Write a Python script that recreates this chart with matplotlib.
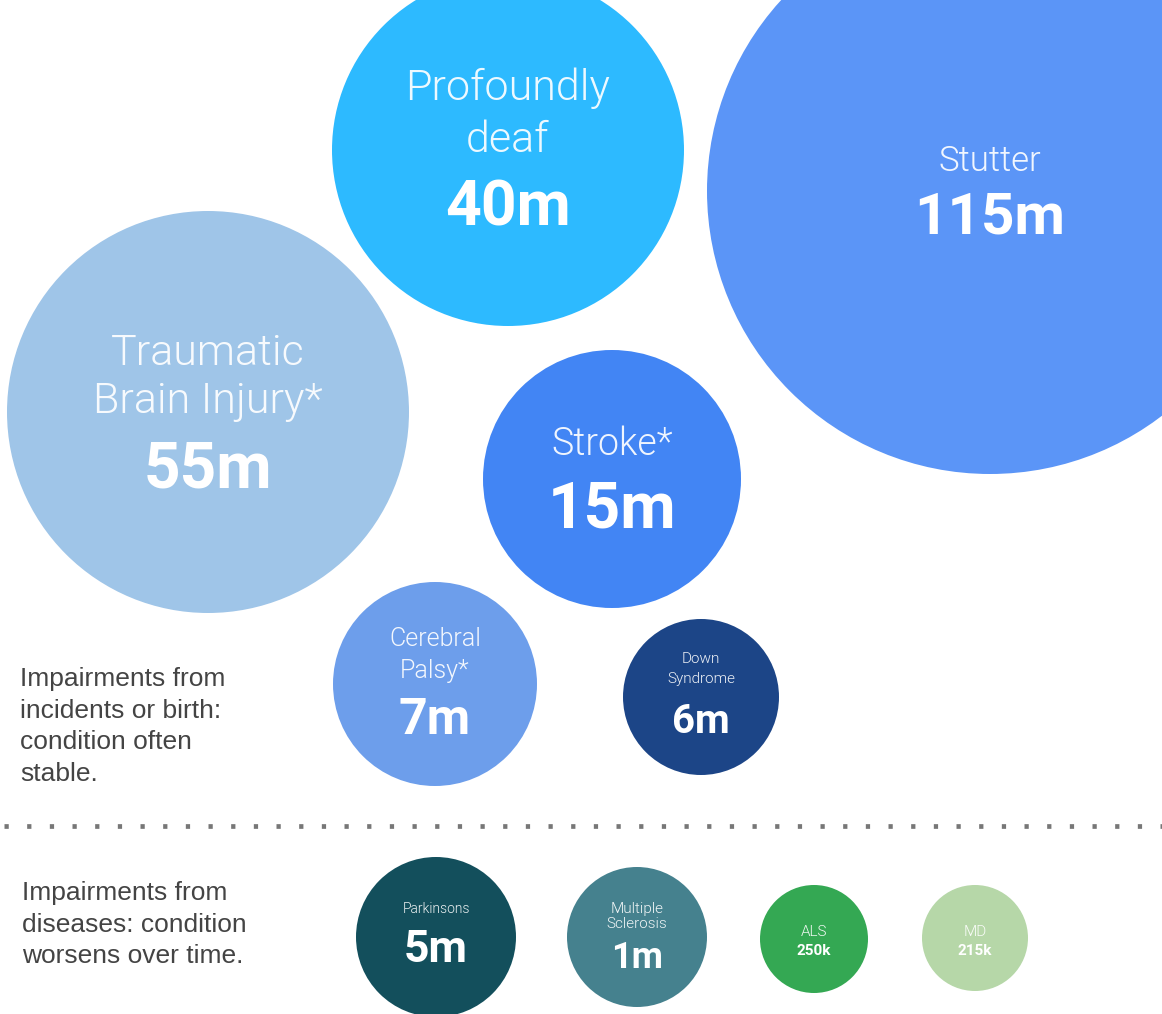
import matplotlib
matplotlib.use("Agg")
import matplotlib.pyplot as plt
from matplotlib.patches import Circle

plt.rcParams['font.family'] = ['Roboto', 'DejaVu Sans']

# --- data -------------------------------------------------------------
names = [
    "Stutter", "Profoundly\ndeaf", "Traumatic\nBrain Injury*", "Stroke*",
    "Cerebral\nPalsy*", "Down\nSyndrome",
    "Parkinsons", "Multiple\nSclerosis", "ALS", "MD",
]
people_m = [115, 40, 55, 15, 7, 6, 5, 1, 0.25, 0.215]   # millions affected
colors = [
    "#5B95F7", "#2DBAFF", "#9FC5E8", "#4285F4",
    "#6D9EEB", "#1C4587",
    "#134F5C", "#45818E", "#34A853", "#B6D7A8",
]
group_notes = [
    "Impairments from\nincidents or birth:\ncondition often\nstable.",
    "Impairments from\ndiseases: condition\nworsens over time.",
]

# --- layout (pixel space, y down) -------------------------------------
# cx, cy, r, name baselines, value baseline, name size, value size
layout = [
    (990, 191, 283, [171], 234, 25, 42),
    (508, 150, 176, [100, 152], 225, 31, 45),
    (208, 412, 201, [365, 413], 488, 31, 46),
    (612, 479, 129, [455], 528, 27, 46),
    (435, 684, 102, [646, 678], 734, 18, 36),
    (701, 697, 78, [663, 683], 733, 11, 29),
    (436, 937, 80, [913], 962, 10, 32),
    (637, 937, 70, [913, 928], 968, 11, 26),
    (814, 939, 54, [936], 955, 11, 11),
    (975, 938, 53, [936], 955, 11, 11),
]


def fmt_value(v):
    if v >= 1:
        return f"{v:g}m"
    return f"{v * 1000:g}k"


W, H = 1162, 1014
fig = plt.figure(figsize=(W / 100, H / 100), dpi=100)
ax = fig.add_axes([0, 0, 1, 1])
ax.set_xlim(0, W)
ax.set_ylim(H, 0)
ax.set_aspect('equal')
ax.axis('off')

for name, val, col, (cx, cy, r, name_ys, val_y, nsz, vsz) in zip(
        names, people_m, colors, layout):
    ax.add_patch(Circle((cx, cy), r, facecolor=col, edgecolor='none'))
    for line, y in zip(name.split("\n"), name_ys):
        ax.text(cx, y, line, ha='center', va='baseline', color='white',
                fontsize=nsz, fontweight=300, alpha=0.92)
    ax.text(cx, val_y, fmt_value(val), ha='center', va='baseline',
            color='white', fontsize=vsz, fontweight='bold')

# dotted separator between the two groups
ax.plot([4, W], [826, 826], color='#777777', linewidth=3.4,
        linestyle=(0, (0.9, 3.9)), solid_capstyle='butt')

note_font = ['Liberation Sans', 'DejaVu Sans']
ax.text(20, 667, group_notes[0], ha='left', va='top', color='#444444',
        fontsize=19, family=note_font, linespacing=1.4)
ax.text(22, 881, group_notes[1], ha='left', va='top', color='#444444',
        fontsize=19, family=note_font, linespacing=1.4)

fig.savefig("out.png", dpi=100, facecolor='white')
